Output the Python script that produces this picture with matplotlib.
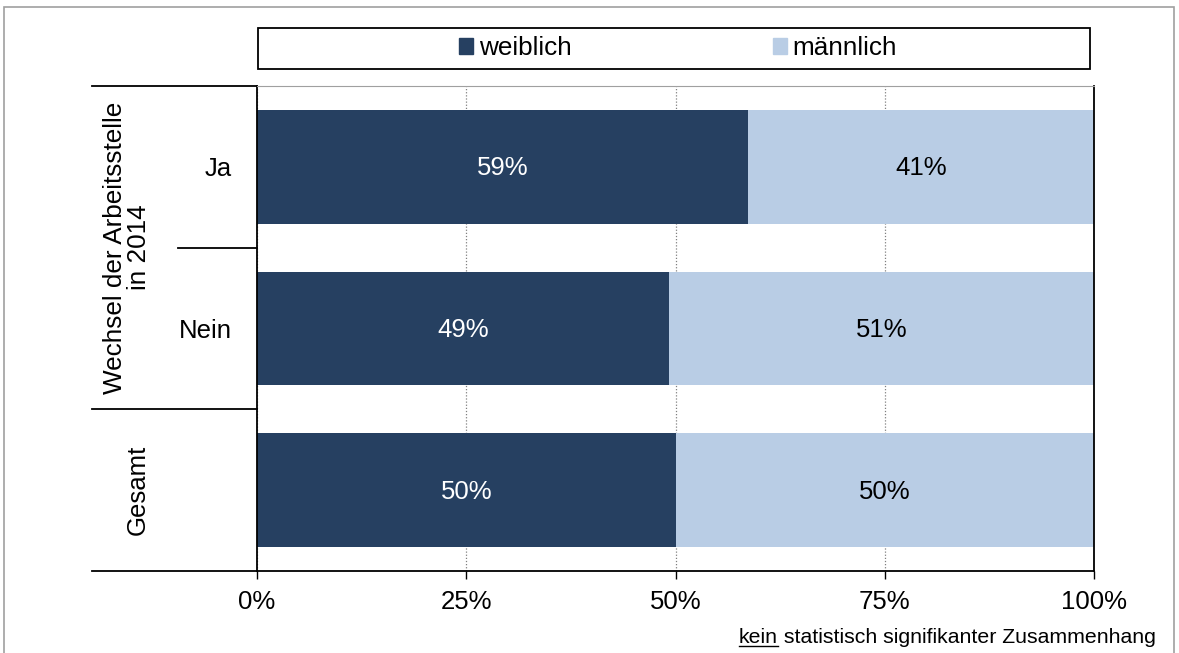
import matplotlib
matplotlib.use("Agg")
import matplotlib.pyplot as plt
import matplotlib.patches as patches
from matplotlib.lines import Line2D

plt.rcParams["font.family"] = ["Liberation Sans", "DejaVu Sans"]

# Data
categories = ["Ja", "Nein", "Gesamt"]
weiblich = [58.7, 49.2, 50.0]
maennlich = [41.3, 50.8, 50.0]
labels_w = ["59%", "49%", "50%"]
labels_m = ["41%", "51%", "50%"]
x_ticks = [0, 25, 50, 75, 100]
x_ticklabels = ["0%", "25%", "50%", "75%", "100%"]
group_label = "Wechsel der Arbeitsstelle\nin 2014"
note_underlined = "kein"
note_rest = " statistisch signifikanter Zusammenhang"

dark = "#264061"
light = "#B9CDE5"

W, H = 1179, 653
fig = plt.figure(figsize=(W / 100, H / 100), dpi=100)
ax = fig.add_axes([257 / W, 1 - 571 / H, (1094 - 257) / W, (571 - 86) / H])

ypos = list(range(len(categories)))
ax.barh(ypos, weiblich, height=0.705, color=dark, zorder=2)
ax.barh(ypos, maennlich, left=weiblich, height=0.705, color=light, zorder=2)

for y, w, m, lw, lm in zip(ypos, weiblich, maennlich, labels_w, labels_m):
    ax.text(w / 2, y + 0.01, lw, color="white", ha="center", va="center", fontsize=18.5, zorder=3)
    ax.text(w + m / 2, y + 0.01, lm, color="black", ha="center", va="center", fontsize=18.5, zorder=3)

ax.set_xlim(0, 100)
ax.set_ylim(len(categories) - 0.5, -0.5)
ax.set_xticks(x_ticks)
ax.set_xticklabels(x_ticklabels, fontsize=18.5)
ax.tick_params(axis="x", direction="out", length=6, width=1, pad=8, colors="black")
ax.set_yticks(ypos[:2])
ax.set_yticklabels(categories[:2], fontsize=18.5)
ax.tick_params(axis="y", length=0, pad=18)
ax.xaxis.grid(True, linestyle=(0, (1, 1.5)), color="#808080", linewidth=0.9, zorder=0)
ax.set_axisbelow(True)

for side in ["left", "bottom", "right"]:
    ax.spines[side].set_color("black")
    ax.spines[side].set_linewidth(1.3)
ax.spines["top"].set_color("#a0a0a0")
ax.spines["top"].set_linewidth(0.8)

# Group separators on the left
trans = ax.get_yaxis_transform()
x_far = (92 - 257) / (1094 - 257)
x_near = (178 - 257) / (1094 - 257)
for yb, x0 in [(-0.5, x_far), (0.5, x_near), (1.5, x_far), (2.5, x_far)]:
    ax.add_line(Line2D([x0, 0], [yb, yb], transform=trans, color="black",
                       linewidth=1.3, clip_on=False))

ax.text((127 - 257) / 837, 0.5, group_label, transform=trans, rotation=90, ha="center",
        va="center", fontsize=18.8, multialignment="center", linespacing=0.95)
ax.text((138 - 257) / 837, 2, categories[2], transform=trans, rotation=90, ha="center",
        va="center", fontsize=18.5)

# Legend with separate frame
handles = [patches.Patch(color=dark, label="weiblich"),
           patches.Patch(color=light, label="männlich")]
fig.legend(handles=handles, loc="center", bbox_to_anchor=(678 / W, 1 - 48 / H),
           ncol=2, frameon=False, fontsize=18.8, handlelength=0.54, handleheight=0.54,
           handletextpad=0.23, columnspacing=7.7, borderpad=0, borderaxespad=0)
fig.add_artist(patches.Rectangle((258 / W, 1 - 69 / H), (1090 - 258) / W, 41 / H,
                                 transform=fig.transFigure, fill=False,
                                 edgecolor="black", linewidth=1.3))

# Outer border
fig.add_artist(patches.Rectangle((4 / W, -0.02), (1174 - 4) / W, 1.02 - 7 / H,
                                 transform=fig.transFigure, fill=False,
                                 edgecolor="#a0a0a0", linewidth=1.2))

# Note with underlined word
x_right = 1156 / W
y_note = 1 - 643 / H
fig.canvas.draw()
renderer = fig.canvas.get_renderer()
t_rest = fig.text(x_right, y_note, note_rest, ha="right", va="baseline", fontsize=15.3)
bb_rest = t_rest.get_window_extent(renderer)
t_kein = fig.text(bb_rest.x0 / W, y_note, note_underlined, ha="right", va="baseline",
                  fontsize=15.3)
bb_kein = t_kein.get_window_extent(renderer)
y_ul = y_note - 2.5 / H
fig.add_artist(Line2D([bb_kein.x0 / W, bb_kein.x1 / W], [y_ul, y_ul],
                      transform=fig.transFigure, color="black", linewidth=1))

fig.savefig("out.png", dpi=100)
